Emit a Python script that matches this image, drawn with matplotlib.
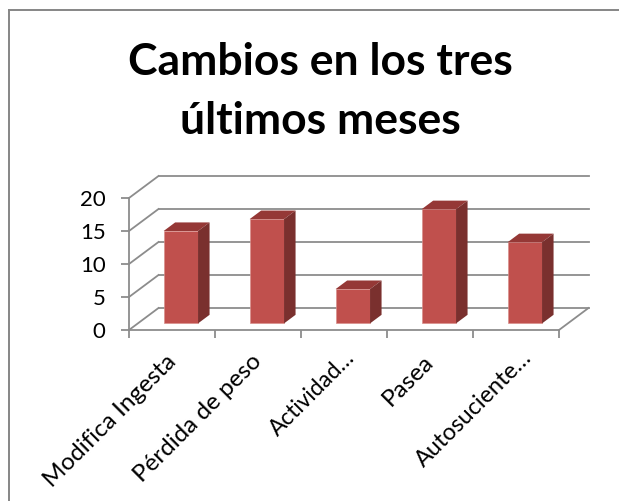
import matplotlib
matplotlib.use('Agg')
import matplotlib.pyplot as plt
from matplotlib.transforms import Affine2D

categories = ['Modifica Ingesta', 'Pérdida de peso', 'Actividad…', 'Pasea', 'Autosuciente…']
values = [14.0, 15.8, 5.2, 17.3, 12.3]
y_ticks = [0, 5, 10, 15, 20]
title = 'Cambios en los tres\núltimos meses'

W, H = 619, 501
DEPTH = (29.5, 22.0)   # oblique offset of the back wall, pixels
GRID = '#8c8c8c'
FRONT, TOP, SIDE = '#c0504d', '#953836', '#7a302e'

plt.rcParams['font.family'] = ['Lato', 'DejaVu Sans']

fig = plt.figure(figsize=(W / 100, H / 100), dpi=100)
ax = fig.add_axes([129 / W, (H - 330) / H, 430 / W, 132 / H])
ax.set_xlim(-0.5, len(categories) - 0.5)
ax.set_ylim(0, 20)
ax.patch.set_visible(False)
for s in ['top', 'right']:
    ax.spines[s].set_visible(False)
for s in ['left', 'bottom']:
    ax.spines[s].set_color(GRID)
    ax.spines[s].set_linewidth(1.3)


def at_depth(d):
    # data coords pushed back by a fraction d of the floor depth
    return ax.transData + Affine2D().translate(DEPTH[0] * d, DEPTH[1] * d)


x0, x1 = ax.get_xlim()
back = at_depth(1)
for v in y_ticks:
    # back wall gridline and its run along the left wall
    ax.plot([x0, x1], [v, v], color=GRID, lw=1.3, transform=back, clip_on=False, zorder=1)
    a = ax.transData.transform((x0, v))
    b = back.transform((x0, v))
    ax.plot([a[0], b[0]], [a[1], b[1]], color=GRID, lw=1.3, transform=None, clip_on=False, zorder=1)
a = ax.transData.transform((x1, 0))
b = back.transform((x1, 0))
ax.plot([a[0], b[0]], [a[1], b[1]], color=GRID, lw=1.3, transform=None, clip_on=False, zorder=1)

# bars: front face, then top and side worked out from the same values
bar_w = 0.4
d_front, d_back = 0.3, 0.69
front = at_depth(d_front)
rear = at_depth(d_back)
for i, v in enumerate(values):
    l, r = i - bar_w / 2, i + bar_w / 2
    ax.bar(i, v, width=bar_w, color=FRONT, edgecolor='#d98f8c', linewidth=0.5,
           transform=front, clip_on=False, zorder=3)
    p = lambda t, x, y: tuple(t.transform((x, y)))
    top = [p(front, l, v), p(front, r, v), p(rear, r, v), p(rear, l, v)]
    side = [p(front, r, 0), p(front, r, v), p(rear, r, v), p(rear, r, 0)]
    ax.fill(*zip(*top), color=TOP, lw=0, transform=None, clip_on=False, zorder=3)
    ax.fill(*zip(*side), color=SIDE, lw=0, transform=None, clip_on=False, zorder=3)

ax.set_yticks(y_ticks)
ax.set_xticks([i - 0.5 for i in range(len(categories) + 1)])
ax.set_xticklabels([])
ax.set_xticks(range(len(categories)), minor=True)
ax.set_xticklabels(categories, minor=True, rotation=45, ha='right',
                   rotation_mode='anchor', fontsize=17.5)
ax.tick_params(axis='x', which='major', length=5.8, width=1.3, color=GRID)
ax.tick_params(axis='x', which='minor', length=0, pad=15)
ax.tick_params(axis='y', length=5.8, width=1.3, color=GRID, labelsize=16, pad=11)
# the two truncated labels run a little tighter and higher than the rest
label_size = [17.5, 17.5, 16.3, 17.5, 16.8]
label_shift = [(-7, 0), (-7, 0), (0, 4), (-7, 0), (5, 4)]
for t, fs, sh in zip(ax.get_xticklabels(minor=True), label_size, label_shift):
    t.set_fontsize(fs)
    t.set_transform(t.get_transform() + Affine2D().translate(*sh))

fig.text(320 / W, 1 - 91.5 / H, title, ha='center', va='center', fontsize=32,
         fontweight='bold', linespacing=1.58, color='black')

# chart frame shows on the left and top only
fig.add_artist(plt.Line2D([9 / W, 9 / W], [0, 1 - 9.5 / H], color='#868686', lw=1.4))
fig.add_artist(plt.Line2D([9 / W, 1], [1 - 9.5 / H, 1 - 9.5 / H], color='#868686', lw=1.4))

fig.savefig('out.png', dpi=100)
